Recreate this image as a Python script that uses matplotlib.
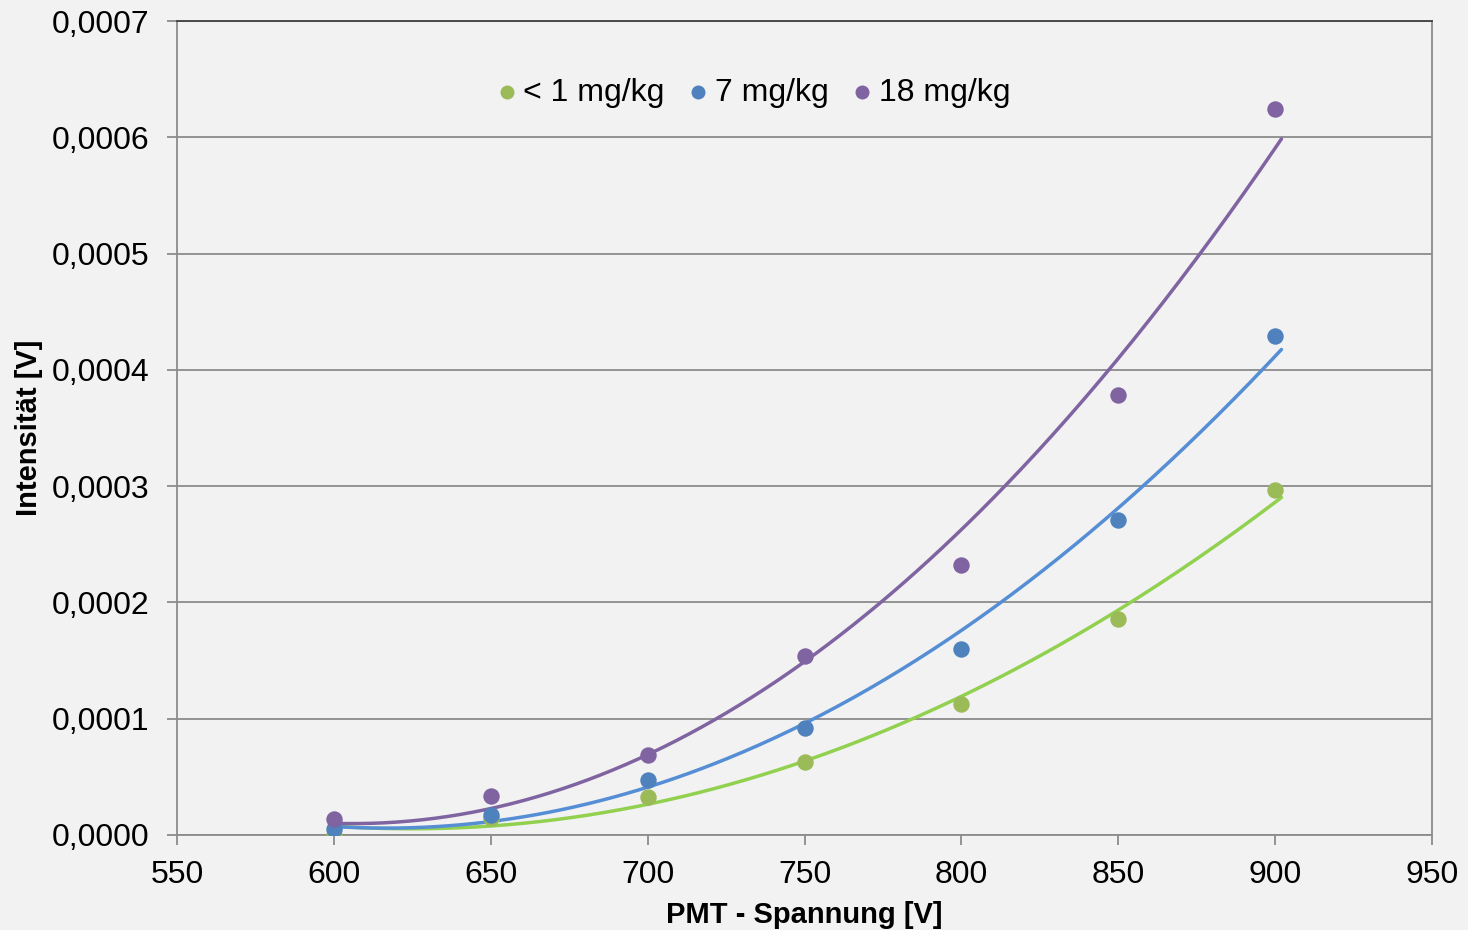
import numpy as np
import matplotlib.pyplot as plt
from matplotlib.ticker import FuncFormatter

plt.rcParams['font.family'] = ['Liberation Sans', 'DejaVu Sans']

# PMT voltage [V]
spannung = [600, 650, 700, 750, 800, 850, 900]

# measured intensity [V] per concentration
int_lt1 = [0.0000000, 0.0000150, 0.0000325, 0.0000625, 0.0001125, 0.0001855, 0.0002970]
int_7 = [0.0000050, 0.0000170, 0.0000475, 0.0000920, 0.0001600, 0.0002710, 0.0004295]
int_18 = [0.0000140, 0.0000335, 0.0000690, 0.0001535, 0.0002325, 0.0003780, 0.0006245]

# trend line values at the same voltages
trend_lt1 = [0.0000070, 0.0000086, 0.0000258, 0.0000645, 0.0001190, 0.0001920, 0.0002870]
trend_7 = [0.0000070, 0.0000122, 0.0000400, 0.0000974, 0.0001750, 0.0002810, 0.0004120]
trend_18 = [0.0000103, 0.0000232, 0.0000670, 0.0001505, 0.0002620, 0.0004110, 0.0005900]

labels = ['< 1 mg/kg', '7 mg/kg', '18 mg/kg']
point_colors = ['#9BBB59', '#4F81BD', '#8064A2']
line_colors = ['#92D050', '#558ED5', '#8064A2']

bg = '#F2F2F2'
fig = plt.figure(figsize=(14.68, 9.30), dpi=100, facecolor=bg)
ax = fig.add_axes([0.1206, 0.1022, 0.8549, 0.8752], facecolor=bg)

x_fit = np.linspace(600, 902, 300)
series = zip([int_lt1, int_7, int_18], [trend_lt1, trend_7, trend_18],
             labels, point_colors, line_colors)
for y, tr, lab, pc, lc in series:
    # smooth 2nd order trend line
    coef = np.polyfit(spannung, tr, 2)
    ax.plot(x_fit, np.polyval(coef, x_fit), color=lc, linewidth=2.5, zorder=2,
            solid_capstyle='round')
    ax.scatter(spannung, y, s=140, color=pc, label=lab, zorder=3, linewidths=0)

ax.set_xlim(550, 950)
ax.set_ylim(0, 0.0007)
ax.set_xticks(np.arange(550, 951, 50))
ax.set_yticks(np.arange(0, 0.00071, 0.0001))
ax.yaxis.set_major_formatter(FuncFormatter(lambda v, p: f'{v:.4f}'.replace('.', ',')))

ax.grid(axis='y', color='#8C8C8C', linewidth=1.3)
ax.set_axisbelow(True)
for side in ['left', 'bottom', 'right']:
    ax.spines[side].set_color('#8C8C8C')
    ax.spines[side].set_linewidth(1.3)
ax.spines['top'].set_color('#404040')
ax.spines['top'].set_linewidth(1.3)
ax.tick_params(axis='both', direction='out', length=7, width=1.3, color='#8C8C8C',
               labelsize=23)
ax.tick_params(axis='x', pad=11)
ax.tick_params(axis='y', pad=13)

ax.set_xlabel('PMT - Spannung [V]', fontsize=21, fontweight='bold', labelpad=8)
ax.set_ylabel('Intensität [V]', fontsize=21, fontweight='bold', labelpad=6)

ax.legend(loc='center', bbox_to_anchor=(0.4595, 0.912), ncol=3, frameon=False,
          fontsize=23, handlelength=0.6, handletextpad=0.22, columnspacing=0.75,
          markerscale=0.85, borderpad=0.1)

plt.savefig('out.png', dpi=100, facecolor=bg)
